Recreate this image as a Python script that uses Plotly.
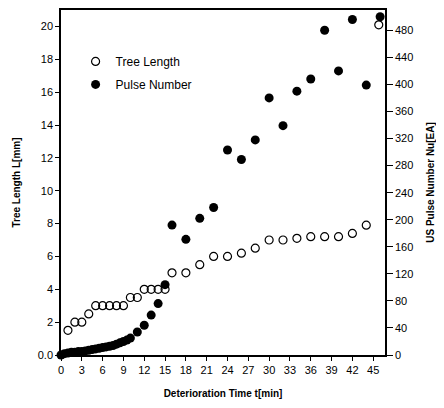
import plotly.graph_objects as go

# Tree length (open circles), left axis [mm]
tree_t = [1, 2, 3, 4, 5, 6, 7, 8, 9, 10, 11, 12, 13, 14, 15, 16, 18, 20, 22, 24,
          26, 28, 30, 32, 34, 36, 38, 40, 42, 44, 45.8]
tree_L = [1.5, 2.0, 2.0, 2.5, 3.0, 3.0, 3.0, 3.0, 3.0, 3.5, 3.5, 4.0, 4.0, 4.0, 4.0,
          5.0, 5.0, 5.5, 6.0, 6.0, 6.2, 6.5, 7.0, 7.0, 7.1, 7.2, 7.2, 7.2, 7.4, 7.9, 20.1]

# US pulse number (filled circles), right axis [EA]
pulse_t = [0, 0.5, 1, 1.5, 2, 2.5, 3, 3.5, 4, 4.5, 5, 5.5, 6, 6.5, 7, 7.5, 8, 8.5,
           9, 9.5, 10, 11, 12, 13, 14, 15, 16, 18, 20, 22, 24, 26, 28, 30, 32, 34,
           36, 38, 40, 42, 44, 46]
pulse_N = [0, 2, 3, 4, 4, 5, 5, 6, 7, 8, 9, 10, 11, 12, 13, 14, 16, 18,
           20, 22, 25, 34, 44, 59, 76, 104, 192, 171, 202, 218, 303, 289, 318, 380, 339, 390,
           408, 480, 420, 496, 399, 500]

x_ticks = [0, 3, 6, 9, 12, 15, 18, 21, 24, 27, 30, 33, 36, 39, 42, 45]
left_ticks = [0, 2, 4, 6, 8, 10, 12, 14, 16, 18, 20]
left_labels = ["0.0", "2", "4", "6", "8", "10", "12", "14", "16", "18", "20"]
right_ticks = [0, 40, 80, 120, 160, 200, 240, 280, 320, 360, 400, 440, 480]

FONT = "Liberation Sans"

fig = go.Figure()
fig.add_trace(go.Scatter(
    x=tree_t, y=tree_L, mode="markers", name="Tree Length",
    marker=dict(symbol="circle-open", size=8, color="black", line=dict(width=1.2)),
    cliponaxis=False, legendgroup="a", yaxis="y"))
fig.add_trace(go.Scatter(
    x=pulse_t, y=pulse_N, mode="markers", name="Pulse Number",
    marker=dict(symbol="circle", size=9, color="black"),
    cliponaxis=False, legendgroup="b", yaxis="y2"))

fig.update_layout(
    width=436, height=400,
    margin=dict(l=53, r=59, t=2, b=53),
    paper_bgcolor="white", plot_bgcolor="white",
    font=dict(family=FONT, size=11, color="black"),
    showlegend=True,
    legend=dict(x=0.045, y=0.893, xanchor="left", yanchor="top",
                bgcolor="rgba(0,0,0,0)", font=dict(size=12),
                traceorder="grouped", tracegroupgap=4),
    xaxis=dict(range=[0, 46.7], tickvals=x_ticks, ticks="outside", ticklen=4,
               tickwidth=1, tickcolor="black", showline=True, linecolor="black",
               linewidth=1.5, mirror=True, showgrid=False, zeroline=False,
               tickfont=dict(size=11), automargin=False,
               title=dict(text="<b>Deterioration Time t[min]</b>", font=dict(size=10))),
    yaxis=dict(range=[0, 21], tickvals=left_ticks, ticktext=left_labels,
               ticks="outside", ticklen=4, tickwidth=1, tickcolor="black",
               showline=True, linecolor="black", linewidth=1.5, showgrid=False,
               zeroline=False, tickfont=dict(size=11), automargin=False,
               title=dict(text="<b>Tree Length L[mm]</b>", font=dict(size=10))),
    yaxis2=dict(range=[0, 510], tickvals=right_ticks, overlaying="y", side="right",
                ticks="outside", ticklen=6, tickwidth=1, tickcolor="black",
                showline=True, linecolor="black", linewidth=1.5, showgrid=False,
                zeroline=False, tickfont=dict(size=11), automargin=False,
                title=dict(text="<b>US Pulse Number Nu[EA]</b>", font=dict(size=10))),
)

fig.write_html("out.html")
